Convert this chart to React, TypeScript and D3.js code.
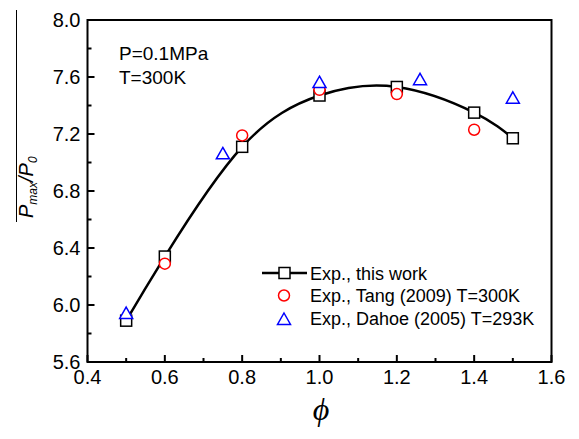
import React from "react";
import * as d3 from "d3";

const thisWorkPhi = [0.5, 0.6, 0.8, 1.0, 1.2, 1.4, 1.5];
const thisWorkP = [5.89, 6.34, 7.11, 7.47, 7.53, 7.35, 7.17];
const tangPhi = [0.6, 0.8, 1.0, 1.2, 1.4];
const tangP = [6.29, 7.19, 7.51, 7.48, 7.23];
const dahoePhi = [0.5, 0.75, 1.0, 1.26, 1.5];
const dahoeP = [5.94, 7.06, 7.56, 7.58, 7.45];
const xTicks = [0.4, 0.6, 0.8, 1.0, 1.2, 1.4, 1.6];
const yTicks = [5.6, 6.0, 6.4, 6.8, 7.2, 7.6, 8.0];
const xMinor = [0.5, 0.7, 0.9, 1.1, 1.3, 1.5];
const yMinor = [5.8, 6.2, 6.6, 7.0, 7.4, 7.8];
const legendLabels = ["Exp., this work", "Exp., Tang (2009) T=300K", "Exp., Dahoe (2005) T=293K"];

const W = 579, H = 439;
const L = 87.5, R = 551.5, T = 20, B = 362;
const FONT = "Arial, 'Liberation Sans', Helvetica, sans-serif";

export default function App() {
  const x = d3.scaleLinear().domain([0.4, 1.6]).range([L, R]);
  const y = d3.scaleLinear().domain([5.6, 8.0]).range([B, T]);
  const line = d3.line<[number, number]>()
    .x((d) => x(d[0]))
    .y((d) => y(d[1]))
    .curve(d3.curveNatural);
  const tw: [number, number][] = thisWorkPhi.map((p, i) => [p, thisWorkP[i]]);
  const sq = 11;
  const tri = (cx: number, cy: number) => {
    const s = 6.5;
    return `M${cx},${cy - s}L${cx + s},${cy + s * 0.75}L${cx - s},${cy + s * 0.75}Z`;
  };
  const legX = 262, legY = [273, 295.5, 318.5];
  return (
    <svg width={W} height={H} style={{ position: "absolute", left: 0, top: 0, background: "#fff" }} fontFamily={FONT}>
      <rect x={0} y={0} width={W} height={H} fill="#fff" />
      {/* frame */}
      <rect x={L} y={T} width={R - L} height={B - T} fill="none" stroke="#000" strokeWidth={2} />
      {/* x ticks */}
      {xTicks.map((t) => (
        <g key={"xt" + t}>
          <line x1={x(t)} x2={x(t)} y1={B} y2={B - 7} stroke="#000" strokeWidth={2} />
          <text x={x(t)} y={B + 22} textAnchor="middle" fontSize={20}>{t.toFixed(1)}</text>
        </g>
      ))}
      {xMinor.map((t) => (
        <line key={"xm" + t} x1={x(t)} x2={x(t)} y1={B} y2={B - 4} stroke="#000" strokeWidth={2} />
      ))}
      {yTicks.map((t) => (
        <g key={"yt" + t}>
          <line x1={L} x2={L + 7} y1={y(t)} y2={y(t)} stroke="#000" strokeWidth={2} />
          <text x={L - 7} y={y(t) + 7} textAnchor="end" fontSize={20}>{t.toFixed(1)}</text>
        </g>
      ))}
      {yMinor.map((t) => (
        <line key={"ym" + t} x1={L} x2={L + 4} y1={y(t)} y2={y(t)} stroke="#000" strokeWidth={2} />
      ))}
      {/* axis labels */}
      <text x={321} y={420} textAnchor="middle" fontSize={32} fontStyle="italic" fontFamily="'Liberation Serif', 'Times New Roman', serif">ϕ</text>
      <line x1={16.5} x2={16.5} y1={10} y2={222} stroke="#000" strokeWidth={1} />
      <g transform="translate(33,218) rotate(-90)">
        <text x={0} y={0} fontSize={20} fontStyle="italic">
          <tspan>P</tspan>
          <tspan fontSize={12} dy={4}>max</tspan>
          <tspan dy={-4}>/P</tspan>
          <tspan fontSize={12} dy={4}>0</tspan>
        </text>
      </g>
      {/* annotation */}
      <text x={119} y={60} fontSize={19}>P=0.1MPa</text>
      <text x={119} y={84} fontSize={19}>T=300K</text>
      {/* curve */}
      <path d={line(tw) || ""} fill="none" stroke="#000" strokeWidth={2.5} />
      {tw.map((d, i) => (
        <rect key={"s" + i} x={x(d[0]) - sq / 2} y={y(d[1]) - sq / 2} width={sq} height={sq} fill="#fff" stroke="#000" strokeWidth={1.5} />
      ))}
      {tangPhi.map((p, i) => (
        <circle key={"c" + i} cx={x(p)} cy={y(tangP[i])} r={5.5} fill="#fff" stroke="#ff0000" strokeWidth={1.5} />
      ))}
      {dahoePhi.map((p, i) => (
        <path key={"t" + i} d={tri(x(p), y(dahoeP[i]))} fill="#fff" stroke="#0000ff" strokeWidth={1.5} />
      ))}
      {/* legend */}
      <line x1={legX} x2={legX + 45} y1={legY[0]} y2={legY[0]} stroke="#000" strokeWidth={2.5} />
      <rect x={legX + 22.5 - sq / 2} y={legY[0] - sq / 2} width={sq} height={sq} fill="#fff" stroke="#000" strokeWidth={1.5} />
      <circle cx={legX + 22} cy={legY[1]} r={5.5} fill="#fff" stroke="#ff0000" strokeWidth={1.5} />
      <path d={tri(legX + 22, legY[2] + 1)} fill="#fff" stroke="#0000ff" strokeWidth={1.5} />
      {legendLabels.map((s, i) => (
        <text key={"l" + i} x={310} y={legY[i] + 6.5} fontSize={18}>{s}</text>
      ))}
    </svg>
  );
}
